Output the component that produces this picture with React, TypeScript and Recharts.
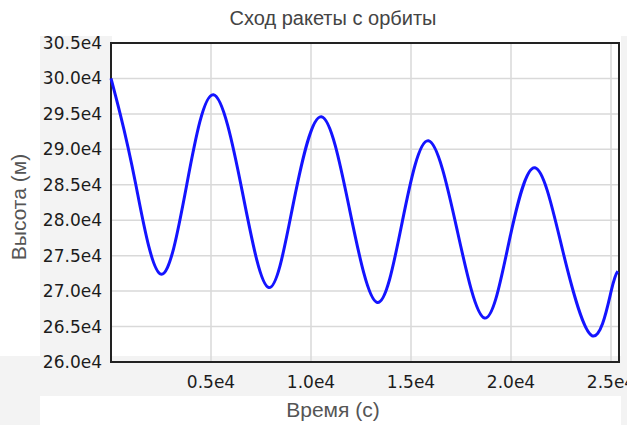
import { LineChart, Line, XAxis, YAxis, CartesianGrid, ReferenceArea, Label } from 'recharts';

// время (с) и высота (м): экстремумы и средние точки каждого полупериода
const timeSec = [
  0, 458, 1242, 2492, 3790, 5120, 6560, 7890, 9130, 10520, 11930, 13310,
  14565, 15870, 17300, 18675, 19890, 21200, 22600, 24058, 25008, 25342,
];
const heightM = [
  300000, 295000, 285000, 272400, 285050, 297700, 284100, 270500, 282550, 294600, 281500, 268400,
  279800, 291200, 278700, 266200, 276800, 287400, 275550, 263700, 270000, 272800,
];

const xTicks = [5000, 10000, 15000, 20000, 25000];
const yTicks = [260000, 265000, 270000, 275000, 280000, 285000, 290000, 295000, 300000, 305000];

const data = timeSec.map((t, i) => ({ t, h: heightM[i] }));

const fmt = (v: number) => `${(v / 1e4).toFixed(1)}e4`;

const tickStyle = { fill: '#1c1c1c', fontSize: 17, fontFamily: 'DejaVu Sans' };
const labelFont = 'Liberation Sans, Arial, sans-serif';
const gray = '#f3f3f3';

export default function App() {
  return (
    <div style={{ position: 'absolute', left: 0, top: 0, width: 627, height: 425, background: '#fff' }}>
      <div style={{ position: 'absolute', left: 40, top: 36, width: 72, height: 326, background: gray }} />
      <div style={{ position: 'absolute', left: 0, top: 356, width: 627, height: 40, background: gray }} />
      <div style={{ position: 'absolute', left: 0, top: 396, width: 40, height: 29, background: gray }} />
      <div style={{ position: 'absolute', left: 621, top: 36, width: 6, height: 389, background: gray }} />
      <div
        style={{
          position: 'absolute',
          left: 0,
          top: 6,
          width: 666,
          textAlign: 'center',
          fontFamily: labelFont,
          fontSize: 20,
          color: '#444',
          lineHeight: '24px',
        }}
      >
        Сход ракеты с орбиты
      </div>
      <div style={{ position: 'absolute', left: 0, top: 0 }}>
        <LineChart width={627} height={425} data={data} margin={{ top: 43, right: 8, bottom: 0, left: 0 }}>
          <CartesianGrid stroke="#d9d9d9" strokeWidth={1.5} />
          <XAxis
            dataKey="t"
            type="number"
            domain={[0, 25400]}
            ticks={xTicks}
            interval={0}
            tickFormatter={fmt}
            height={63}
            tickLine={false}
            axisLine={false}
            tickSize={0}
            tickMargin={14}
            tick={tickStyle}
          >
            <Label
              content={() => (
                <text x={333} y={417} textAnchor="middle" fontFamily={labelFont} fontSize={21} fill="#555">
                  Время (с)
                </text>
              )}
            />
          </XAxis>
          <YAxis
            type="number"
            domain={[260000, 305000]}
            ticks={yTicks}
            interval={0}
            tickFormatter={fmt}
            width={111}
            tickLine={false}
            axisLine={false}
            tickSize={0}
            tickMargin={9}
            tick={tickStyle}
          >
            <Label
              content={() => (
                <text
                  x={26}
                  y={207}
                  transform="rotate(-90 26 207)"
                  textAnchor="middle"
                  fontFamily={labelFont}
                  fontSize={21}
                  fill="#555"
                >
                  Высота (м)
                </text>
              )}
            />
          </YAxis>
          <ReferenceArea
            x1={0}
            x2={25400}
            y1={260000}
            y2={305000}
            fill="none"
            fillOpacity={0}
            stroke="#222"
            strokeWidth={2}
          />
          <Line
            type="natural"
            dataKey="h"
            stroke="#1414ff"
            strokeWidth={3}
            dot={false}
            isAnimationActive={false}
          />
        </LineChart>
      </div>
    </div>
  );
}
